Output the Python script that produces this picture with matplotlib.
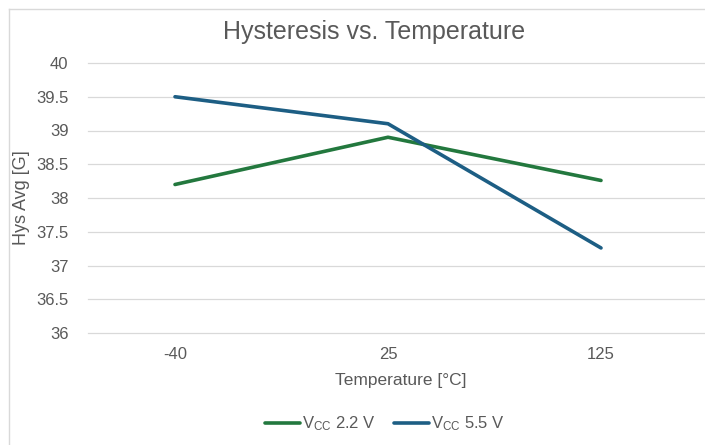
import matplotlib
matplotlib.use('Agg')
import matplotlib.pyplot as plt
from matplotlib.lines import Line2D

plt.rcParams['font.family'] = ['Liberation Sans', 'DejaVu Sans']
plt.rcParams['mathtext.fontset'] = 'custom'
plt.rcParams['mathtext.rm'] = 'Liberation Sans'
plt.rcParams['mathtext.it'] = 'Liberation Sans'

# data
temps = ['-40', '25', '125']
hys_22 = [38.2, 38.9, 38.26]
hys_55 = [39.5, 39.1, 37.26]
y_ticks = [36, 36.5, 37, 37.5, 38, 38.5, 39, 39.5, 40]
y_tick_labels = ['36', '36.5', '37', '37.5', '38', '38.5', '39', '39.5', '40']

GREEN = '#23783E'
BLUE = '#1D5E84'
GRAY_TXT = '#595959'
GRID = '#D9D9D9'

W, H = 705, 445
fig = plt.figure(figsize=(W / 100, H / 100), dpi=100)

# outer chart frame (only left and top edges are visible, rest cropped)
fx, fy = 8.5 / W, 1 - 8.5 / H
fig.add_artist(Line2D([fx, fx], [0, fy], transform=fig.transFigure,
                      color=GRID, lw=1.0))
fig.add_artist(Line2D([fx, 1], [fy, fy], transform=fig.transFigure,
                      color=GRID, lw=1.0))

ax = fig.add_axes([88 / W, (H - 333) / H, (W - 88) / W, 270 / H])
x = list(range(len(temps)))
ax.plot(x, hys_22, color=GREEN, lw=2.6, solid_capstyle='round',
        label=r'V$_{\mathrm{CC}}$ 2.2 V', zorder=3)
ax.plot(x, hys_55, color=BLUE, lw=2.6, solid_capstyle='round',
        label=r'V$_{\mathrm{CC}}$ 5.5 V', zorder=3)

ax.set_xlim(-87 / 213, 2 + (W - 601) / 213)
ax.set_ylim(36, 40)
ax.set_yticks(y_ticks)
ax.set_yticklabels(y_tick_labels)
ax.set_xticks(x)
ax.set_xticklabels(temps)
ax.grid(axis='y', color=GRID, lw=0.9)
for gl in ax.get_ygridlines():
    gl.set_clip_on(False)
ax.set_axisbelow(True)
for s in ax.spines.values():
    s.set_visible(False)
ax.tick_params(length=0, labelsize=12, colors=GRAY_TXT)
ax.tick_params(axis='y', pad=14)
ax.tick_params(axis='x', pad=10)
for lbl in ax.get_yticklabels() + ax.get_xticklabels():
    lbl.set_color(GRAY_TXT)

fig.text(374 / W, 1 - 32 / H, 'Hysteresis vs. Temperature', ha='center',
         va='center', fontsize=18, color=GRAY_TXT)
fig.text(401 / W, 1 - 381 / H, 'Temperature [°C]', ha='center', va='center',
         fontsize=12.5, color=GRAY_TXT)
fig.text(22 / W, 1 - 198 / H, 'Hys Avg [G]', ha='center', va='center',
         rotation=90, fontsize=13, color=GRAY_TXT)

leg = fig.legend(loc='center', bbox_to_anchor=(385 / W, 1 - 424 / H), ncol=2,
                 frameon=False, fontsize=12, handlelength=2.1,
                 handletextpad=0.1, columnspacing=1.1)
for t in leg.get_texts():
    t.set_color(GRAY_TXT)

fig.savefig('out.png', dpi=100)
